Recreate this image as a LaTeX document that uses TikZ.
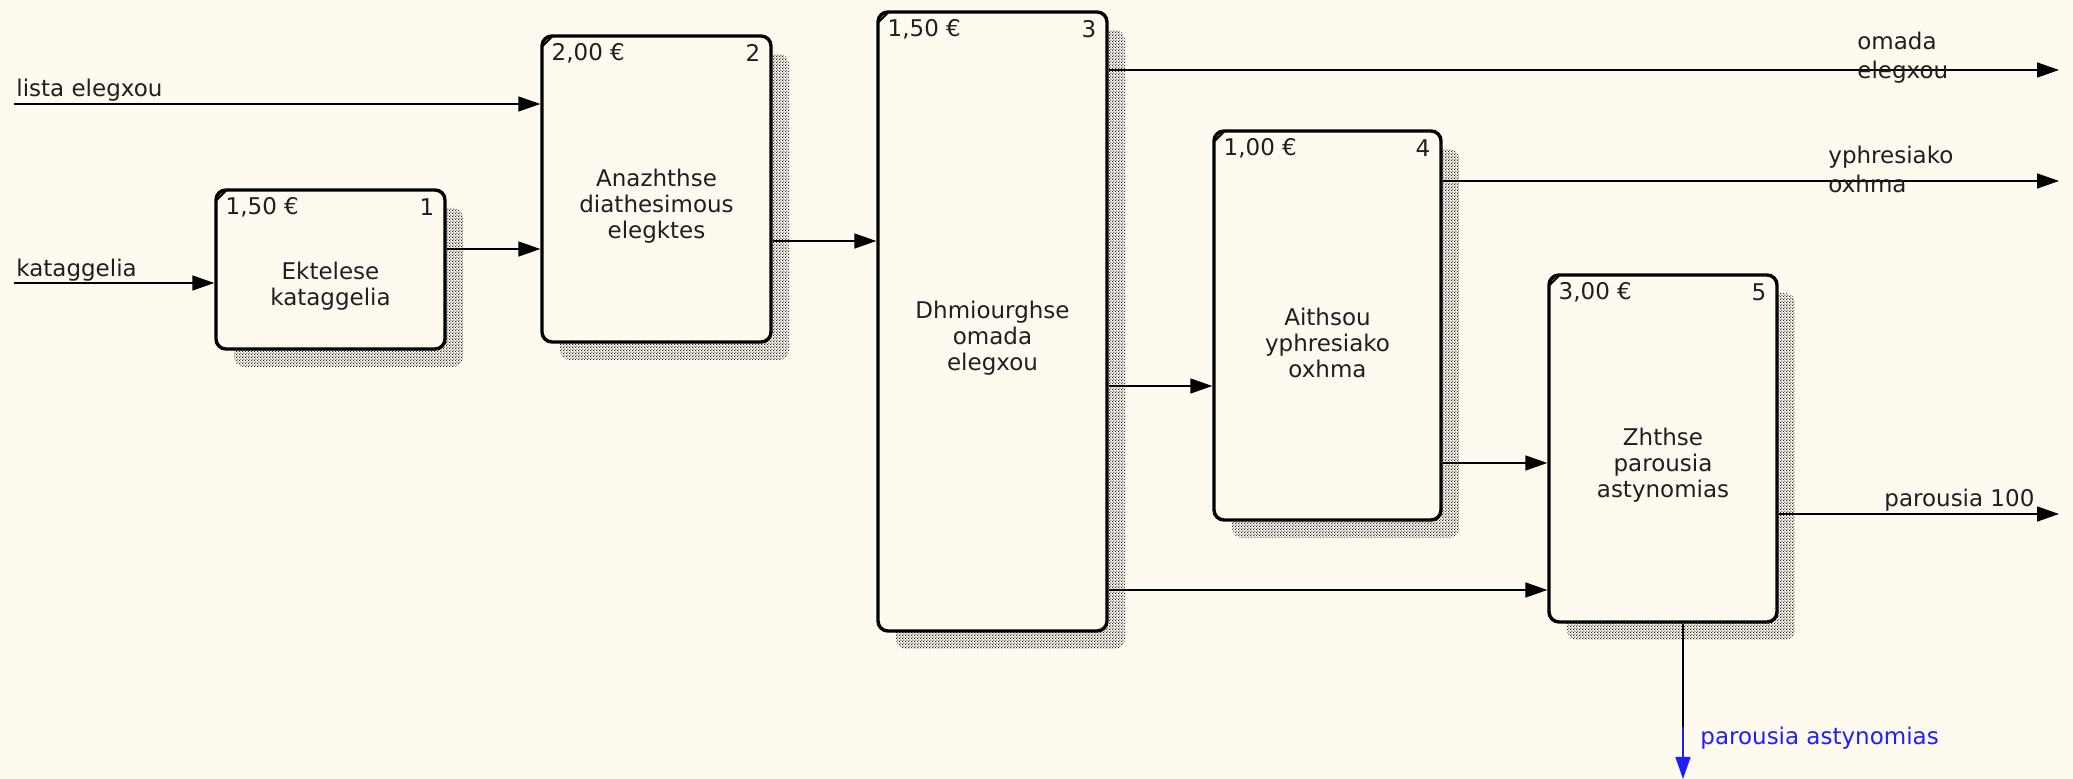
\documentclass[tikz,border=0pt]{standalone}
\usepackage{fontspec}
\setmainfont{DejaVu Sans}
\usetikzlibrary{arrows.meta,patterns,fit}
\definecolor{bg}{RGB}{255,250,240}
\definecolor{lblue}{RGB}{30,30,255}
\pgfdeclarepatternformonly{shadowdots}{\pgfpointorigin}{\pgfpoint{1.6pt}{1.6pt}}{\pgfpoint{1.6pt}{1.6pt}}{%
 \pgfpathrectangle{\pgfpointorigin}{\pgfpoint{0.7pt}{0.7pt}}%
 \pgfpathrectangle{\pgfpoint{0.8pt}{0.8pt}}{\pgfpoint{0.7pt}{0.7pt}}%
 \pgfusepath{fill}}
\tikzset{
 box/.style={draw=black, line width=1.7pt, rounded corners=5pt, fill=bg, inner sep=0pt},
 shadowbox/.style={pattern=shadowdots, pattern color=black!85, rounded corners=5pt},
 btext/.style={align=center, inner sep=0pt, text=black!88, font=\fontsize{11.5pt}{13pt}\selectfont},
 hdr/.style={inner sep=0pt, text=black!88, font=\fontsize{11.5pt}{13pt}\selectfont},
 lbl/.style={inner sep=0pt, align=left, text=black!88, font=\fontsize{11.5pt}{14.5pt}\selectfont},
 conn/.style={line width=0.8pt, -{Triangle[length=11pt,width=7.5pt]}},
}
% #1 name, #2 left, #3 top, #4 right, #5 bottom (px), #6 cost, #7 number, #8 text
\newcommand\actbox[8]{%
 \fill[shadowbox] ({#2+18},{#3+18}) rectangle ({#4+18},{#5+18});
 \coordinate (#1nw) at (#2,#3);
 \coordinate (#1se) at (#4,#5);
 \node[box, fit=(#1nw)(#1se)] (#1) {};
 \draw[line width=1pt] ([shift={(1pt,-6pt)}]#1.north west) -- ([shift={(6pt,-1pt)}]#1.north west);
 \node[btext] (#1t) at ([yshift=-8.5pt]#1.center) {#8};
 \node[hdr, anchor=west] (#1c) at ([shift={(5.5pt,-9.5pt)}]#1.north west) {#6};
 \node[hdr, anchor=east] (#1n) at ([shift={(-6pt,-9.5pt)}]#1.north east) {#7};
}
\begin{document}
\begin{tikzpicture}[x=0.5pt,y=-0.5pt]
\fill[bg] (0,0) rectangle (2073,779);
\useasboundingbox (0,0) rectangle (2073,779);

\actbox{b1}{216}{190}{445}{349}{1,50 €}{1}{Ektelese\\kataggelia}
\actbox{b2}{542}{36}{771}{342}{2,00 €}{2}{Anazhthse\\diathesimous\\elegktes}
\actbox{b3}{878}{12}{1107}{631}{1,50 €}{3}{Dhmiourghse\\omada\\elegxou}
\actbox{b4}{1214}{131}{1441}{520}{1,00 €}{4}{Aithsou\\yphresiako\\oxhma}
\actbox{b5}{1549}{275}{1777}{622}{3,00 €}{5}{Zhthse\\parousia\\astynomias}

\coordinate (in1) at (14,104);
\coordinate (in2) at (14,283);
\coordinate (o1) at (2059,70);
\coordinate (o2) at (2059,181);
\coordinate (o3) at (2059,514);
\coordinate (d1) at (1683,727);
\coordinate (d2) at (1683,779);

\draw[conn] (in1) -- (b2.west |- in1);
\draw[conn] (in2) -- (b1.west |- in2);
\draw[conn] (b1.east |- 0,249) -- (b2.west |- 0,249);
\draw[conn] (b2.east |- 0,241) -- (b3.west |- 0,241);
\draw[conn] (b3.east |- o1) -- (o1);
\draw[conn] (b4.east |- o2) -- (o2);
\draw[conn] (b3.east |- 0,386) -- (b4.west |- 0,386);
\draw[conn] (b4.east |- 0,463) -- (b5.west |- 0,463);
\draw[conn] (b3.east |- 0,590) -- (b5.west |- 0,590);
\draw[conn] (b5.east |- o3) -- (o3);
\draw[line width=0.8pt] (b5.south -| d1) -- (d1);
\draw[conn, lblue] (d1) -- (d2);

\node[lbl, anchor=west] (l1) at (16,90) {lista elegxou};
\node[lbl, anchor=west] (l2) at (16,270) {kataggelia};
\node[lbl, anchor=west] (l3) at (1857,57.5) {omada\\elegxou};
\node[lbl, anchor=west] (l4) at (1828,169) {yphresiako\\oxhma};
\node[lbl, anchor=west] (l5) at (1884,500) {parousia 100};
\node[lbl, anchor=west, text=lblue] (l6) at (1700,738) {parousia astynomias};
\end{tikzpicture}
\end{document}
